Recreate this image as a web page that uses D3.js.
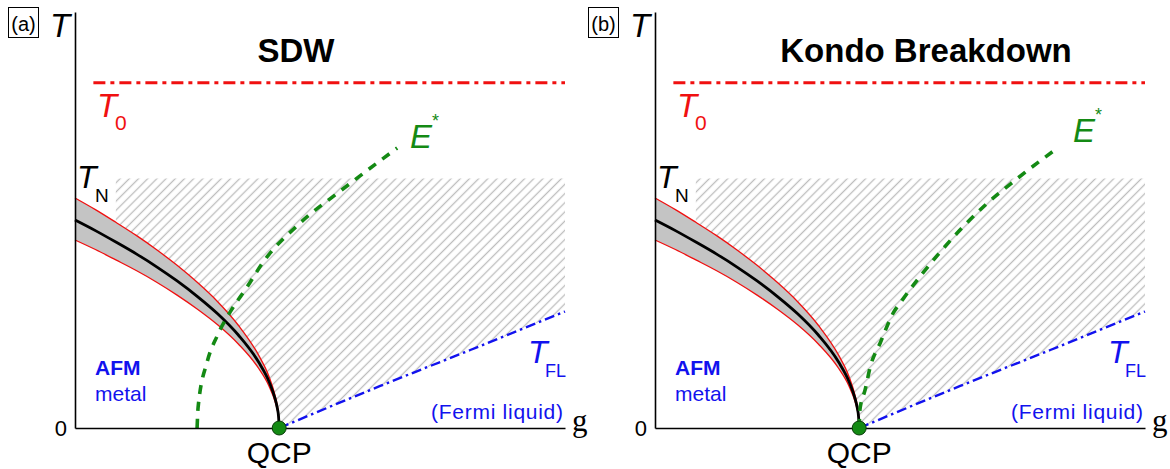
<!doctype html>
<html>
<head>
<meta charset="utf-8">
<style>
  body { margin: 0; background: #fff; font-family: "Liberation Sans", Arial, sans-serif; }
  svg text { font-family: "Liberation Sans", Arial, sans-serif; }
</style>
</head>
<body>
<div id="chart"></div>
<script src="https://cdnjs.cloudflare.com/ajax/libs/d3/7.8.5/d3.min.js"></script>
<script>
  var width = 1170
  var height = 469

  // g in units of g_c (QCP at g = 1), T in units of T_N(0)
  // T_N line and the grey band around it
  var tnG     = [0, 0.1, 0.2, 0.3, 0.4, 0.5, 0.6, 0.7, 0.8, 0.9, 0.95, 0.98, 0.99, 0.997, 1]
  var tnMid   = [1, 0.949, 0.894, 0.837, 0.775, 0.707, 0.632, 0.548, 0.447, 0.316, 0.224, 0.141, 0.1, 0.055, 0]
  var tnUpper = [1.106, 1.05, 0.989, 0.926, 0.857, 0.782, 0.699, 0.606, 0.494, 0.349, 0.248, 0.156, 0.111, 0.061, 0]
  var tnLower = [0.904, 0.858, 0.808, 0.757, 0.701, 0.639, 0.571, 0.495, 0.404, 0.286, 0.202, 0.127, 0.09, 0.05, 0]

  // T_0 crossover (flat) and the top of the hatched quantum critical region
  var t0G = [0.09, 2.4]
  var t0Value = 1.66
  var hatchTop = 1.2
  var hatchLeftG = 0.2

  // T_FL (Fermi liquid) line, same in both panels
  var tflG = [1, 1.495, 1.936, 2.4]
  var tflT = [0, 0.202, 0.375, 0.56]

  // E* line, panel (a) SDW: starts inside the AFM phase
  var eStarG_a = [0.598, 0.603, 0.647, 0.696, 0.76, 0.843, 0.922, 1.103, 1.299, 1.578]
  var eStarT_a = [0, 0.1, 0.317, 0.442, 0.558, 0.678, 0.798, 0.986, 1.139, 1.346]

  // E* line, panel (b) Kondo breakdown: starts at the QCP
  var eStarG_b = [1, 1.004, 1.029, 1.054, 1.103, 1.167, 1.211, 1.397, 1.618, 1.765, 1.971]
  var eStarT_b = [0, 0.09, 0.183, 0.293, 0.409, 0.553, 0.615, 0.846, 1.072, 1.192, 1.346]

  var panelTags = ['(a)', '(b)']
  var panelTitles = ['SDW', 'Kondo Breakdown']

  var red = '#f01010'
  var blue = '#1212ee'
  var green = '#148a14'

  var svg = d3.select('#chart')
    .append('svg')
    .attr('width', width)
    .attr('height', height)

  var defs = svg.append('defs')
  defs.append('pattern')
    .attr('id', 'hatch')
    .attr('patternUnits', 'userSpaceOnUse')
    .attr('width', 6.5)
    .attr('height', 6.5)
    .attr('patternTransform', 'rotate(45)')
    .append('line')
    .attr('x1', 3.25).attr('y1', 0)
    .attr('x2', 3.25).attr('y2', 6.5)
    .attr('stroke', '#bdbdbd')
    .attr('stroke-width', 1.3)

  var x = d3.scaleLinear().domain([0, 2.4]).range([75, 565])
  var y = d3.scaleLinear().domain([0, 2]).range([428, 12])

  var line = d3.line().x(d => x(d[0])).y(d => y(d[1])).curve(d3.curveMonotoneX)
  var straight = d3.line().x(d => x(d[0])).y(d => y(d[1]))

  function zipPts(gs, ts) {
    return gs.map((g, i) => [g, ts[i]])
  }

  var upperPts = zipPts(tnG, tnUpper)
  var midPts = zipPts(tnG, tnMid)
  var lowerPts = zipPts(tnG, tnLower)
  var tflPts = zipPts(tflG, tflT)

  function drawPanel(i, eG, eT, eLabel) {
    var g = svg.append('g')
      .attr('transform', `translate(${i * 580},0)`)

    // hatched quantum critical region
    var hatchEdge = upperPts.filter(d => d[0] >= hatchLeftG)
    var d = line(hatchEdge) + line(tflPts).replace('M', 'L') +
      straight([[2.4, hatchTop], [hatchLeftG, hatchTop]]).replace('M', 'L') + 'Z'
    g.append('path')
      .attr('d', d)
      .attr('fill', 'url(#hatch)')

    // grey band round T_N
    var band = d3.area()
      .x(d => x(d))
      .y0((d, k) => y(tnLower[k]))
      .y1((d, k) => y(tnUpper[k]))
      .curve(d3.curveMonotoneX)
    g.append('path')
      .attr('d', band(tnG))
      .attr('fill', '#c4c4c4')

    g.selectAll('.edge')
      .data([upperPts, lowerPts])
      .enter().append('path')
      .attr('d', line)
      .attr('fill', 'none')
      .attr('stroke', red)
      .attr('stroke-width', 1.3)

    g.append('path')
      .attr('d', line(midPts))
      .attr('fill', 'none')
      .attr('stroke', 'black')
      .attr('stroke-width', 2.8)

    // T_FL
    g.append('path')
      .attr('d', line(tflPts))
      .attr('fill', 'none')
      .attr('stroke', blue)
      .attr('stroke-width', 2.4)
      .attr('stroke-dasharray', '10,4,2.5,4')

    // E*
    g.append('path')
      .attr('d', line(zipPts(eG, eT)))
      .attr('fill', 'none')
      .attr('stroke', green)
      .attr('stroke-width', 3.6)
      .attr('stroke-dasharray', '9,8')

    // T_0
    g.append('path')
      .attr('d', straight(t0G.map(v => [v, t0Value])))
      .attr('fill', 'none')
      .attr('stroke', red)
      .attr('stroke-width', 3)
      .attr('stroke-dasharray', '12,5,4,5')

    // axes
    g.append('g')
      .attr('transform', `translate(0,${y(0)})`)
      .call(d3.axisBottom(x).tickValues([]).tickSizeOuter(0))
      .select('.domain').attr('stroke-width', 1.6)
    g.append('g')
      .attr('transform', `translate(${x(0)},0)`)
      .call(d3.axisLeft(y).tickValues([]).tickSizeOuter(0))
      .select('.domain').attr('stroke-width', 1.6)

    // QCP dot
    g.append('circle')
      .attr('cx', x(1))
      .attr('cy', y(0))
      .attr('r', 7)
      .attr('fill', green)
      .attr('stroke', '#0a3a0a')
      .attr('stroke-width', 1)

    // panel tag and title
    g.append('rect')
      .attr('x', 8.5).attr('y', 7.5)
      .attr('width', 30).attr('height', 30)
      .attr('fill', 'none').attr('stroke', 'black').attr('stroke-width', 1)
    g.append('text')
      .attr('x', 23.5).attr('y', 31)
      .attr('text-anchor', 'middle')
      .attr('font-size', 20)
      .text(panelTags[i])

    g.append('text')
      .attr('x', 50).attr('y', 37)
      .attr('font-size', 33).attr('font-style', 'italic')
      .text('T')

    g.append('text')
      .attr('x', i === 0 ? 296 : 346).attr('y', 62)
      .attr('text-anchor', 'middle')
      .attr('font-size', 33).attr('font-weight', 'bold')
      .text(panelTitles[i])

    g.append('text')
      .attr('x', 67).attr('y', 436)
      .attr('text-anchor', 'end')
      .attr('font-size', 22)
      .text('0')

    g.append('text')
      .attr('x', 572).attr('y', 431)
      .attr('font-size', 31)
      .style('font-family', '"Liberation Serif", "Times New Roman", serif')
      .text('g')

    g.append('text')
      .attr('x', x(1)).attr('y', 463)
      .attr('text-anchor', 'middle')
      .attr('font-size', 30)
      .text('QCP')

    // T_0
    g.append('text')
      .attr('x', 97).attr('y', 117)
      .attr('font-size', 33).attr('font-style', 'italic')
      .attr('fill', red)
      .text('T')
    g.append('text')
      .attr('x', 115).attr('y', 130)
      .attr('font-size', 21)
      .attr('fill', red)
      .text('0')

    // T_N
    g.append('text')
      .attr('x', 77).attr('y', 188)
      .attr('font-size', 32).attr('font-style', 'italic')
      .text('T')
    g.append('text')
      .attr('x', 95).attr('y', 202)
      .attr('font-size', 19)
      .text('N')

    // E*
    g.append('text')
      .attr('x', eLabel[0]).attr('y', eLabel[1])
      .attr('font-size', 33).attr('font-style', 'italic')
      .attr('fill', green)
      .text('E')
    g.append('text')
      .attr('x', eLabel[0] + 22).attr('y', eLabel[1] - 21)
      .attr('font-size', 18)
      .attr('fill', green)
      .text('*')

    // T_FL
    g.append('text')
      .attr('x', 528).attr('y', 363)
      .attr('font-size', 32).attr('font-style', 'italic')
      .attr('fill', blue)
      .text('T')
    g.append('text')
      .attr('x', 545).attr('y', 377)
      .attr('font-size', 18)
      .attr('fill', blue)
      .text('FL')

    g.append('text')
      .attr('x', 563).attr('y', 419)
      .attr('text-anchor', 'end')
      .attr('font-size', 21)
      .attr('fill', blue)
      .attr('textLength', 132)
      .attr('lengthAdjust', 'spacing')
      .text('(Fermi liquid)')

    g.append('text')
      .attr('x', 95).attr('y', 375)
      .attr('font-size', 21).attr('font-weight', 'bold')
      .attr('fill', blue)
      .text('AFM')
    g.append('text')
      .attr('x', 95).attr('y', 401)
      .attr('font-size', 21)
      .attr('fill', blue)
      .text('metal')
  }

  drawPanel(0, eStarG_a, eStarT_a, [410, 148])
  drawPanel(1, eStarG_b, eStarT_b, [493, 142])
</script>
</body>
</html>
